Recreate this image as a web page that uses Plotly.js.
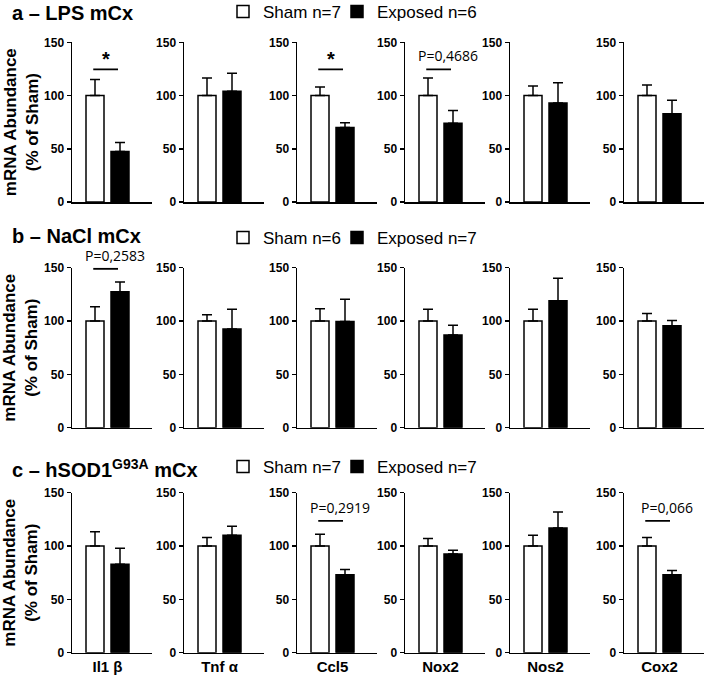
<!DOCTYPE html>
<html>
<head>
<meta charset="utf-8">
<script src="https://cdn.plot.ly/plotly-3.0.1.min.js"></script>
<style>html,body{margin:0;padding:0;background:#fff;}#chart{width:708px;height:675px;}</style>
</head>
<body>
<div id="chart"></div>
<script>
// ---- data ----
const genes = ['Il1 β', 'Tnf α', 'Ccl5', 'Nox2', 'Nos2', 'Cox2'];
const rowTitles = ['a – LPS mCx', 'b – NaCl mCx', 'c – hSOD1<sup>G93A</sup> mCx'];
const nSham = [7, 6, 7];
const nExposed = [6, 7, 7];

const shamA = [100, 100, 100, 100, 100, 100];
const shamErrA = [15, 16.5, 8, 16.5, 9, 10];
const expA = [47.5, 104, 70, 74, 93, 83];
const expErrA = [8.5, 17, 4.5, 12, 19, 12.5];

const shamB = [100, 100, 100, 100, 100, 100];
const shamErrB = [13.5, 6, 11.5, 11, 11, 7];
const expB = [127.5, 92.5, 99.5, 87, 119, 95.5];
const expErrB = [9, 18.5, 21, 9, 21, 5];

const shamC = [100, 100, 100, 100, 100, 100];
const shamErrC = [13.5, 8, 11, 7, 10, 8];
const expC = [83, 110, 73, 92.5, 117, 73];
const expErrC = [15, 8.5, 5, 3.5, 15, 4];

const sigRow = [0, 0, 0, 1, 2, 2];
const sigCol = [0, 2, 3, 0, 2, 5];
const sigLevel = [124.5, 124.5, 124.5, 149, 123.5, 123.5];
const sigLabel = ['*', '*', 'P=0,4686', 'P=0,2583', 'P=0,2919', 'P=0,066'];

const yTicks = [0, 50, 100, 150];

// ---- layout geometry (pixels) ----
const W = 708, H = 675;
const colX = [72, 184, 297, 405, 510, 624];
const panelW = 80;
const rowTop = [42.3, 267.7, 492.7];
const rowBot = [202, 427.7, 652.7];
const titleY = [13, 236, 468];
const legendY = [12, 238, 467];
const legendX = [223, 337];

const shamRows = [shamA, shamB, shamC];
const shamErrRows = [shamErrA, shamErrB, shamErrC];
const expRows = [expA, expB, expC];
const expErrRows = [expErrA, expErrB, expErrC];

const FONT = 'Liberation Sans, Arial, sans-serif';
const traces = [];
const layout = {
  width: W, height: H,
  margin: {l: 0, r: 0, t: 0, b: 0, autoexpand: false},
  paper_bgcolor: '#fff', plot_bgcolor: '#fff',
  font: {family: FONT, color: '#000'},
  showlegend: true,
  bargap: 0,
  annotations: [], shapes: []
};

function legendKey(k) { return k === 0 ? 'legend' : 'legend' + (k + 1); }

for (let r = 0; r < 3; r++) {
  for (let c = 0; c < 6; c++) {
    const n = r * 6 + c + 1;
    const xa = 'x' + n, ya = 'y' + n;
    const xKey = 'xaxis' + n, yKey = 'yaxis' + n;
    layout[xKey] = {
      domain: [colX[c] / W, (colX[c] + panelW) / W],
      range: [-0.92, 2.28],
      anchor: ya,
      showline: true, linecolor: '#000', linewidth: 1.5,
      ticks: '', showgrid: false, zeroline: false, fixedrange: true,
      tickvals: [0.5], ticktext: [genes[c]],
      showticklabels: r === 2,
      tickfont: {family: FONT, size: 15, weight: 'bold', color: '#000'}
    };
    layout[yKey] = {
      domain: [1 - rowBot[r] / H, 1 - rowTop[r] / H],
      range: [0, 150],
      anchor: xa,
      showline: true, linecolor: '#000', linewidth: 1.5,
      ticks: 'outside', ticklen: 4, tickwidth: 1.5, tickcolor: '#000',
      tickvals: yTicks, ticktext: yTicks.map(String),
      showgrid: false, zeroline: false, fixedrange: true,
      tickfont: {family: FONT, size: 12, weight: 'bold', color: '#000'}
    };
    traces.push({
      type: 'bar', x: [0], y: [shamRows[r][c]], xaxis: xa, yaxis: ya,
      width: 0.72,
      name: 'Sham n=' + nSham[r],
      legend: legendKey(2 * r), showlegend: c === 0,
      marker: {color: '#fff', line: {color: '#000', width: 1.5}},
      error_y: {type: 'data', symmetric: false, array: [shamErrRows[r][c]], arrayminus: [0],
                color: '#000', thickness: 1.5, width: 5},
      hoverinfo: 'skip'
    });
    traces.push({
      type: 'bar', x: [1], y: [expRows[r][c]], xaxis: xa, yaxis: ya,
      width: 0.72,
      name: 'Exposed n=' + nExposed[r],
      legend: legendKey(2 * r + 1), showlegend: c === 0,
      marker: {color: '#000', line: {color: '#000', width: 1.5}},
      error_y: {type: 'data', symmetric: false, array: [expErrRows[r][c]], arrayminus: [0],
                color: '#000', thickness: 1.5, width: 5},
      hoverinfo: 'skip'
    });
  }
  for (let k = 0; k < 2; k++) {
    layout[legendKey(2 * r + k)] = {
      orientation: 'h', x: legendX[k] / W, xanchor: 'left',
      y: 1 - legendY[r] / H, yanchor: 'middle',
      font: {family: FONT, size: 17, color: '#000'},
      bgcolor: 'rgba(0,0,0,0)', borderwidth: 0
    };
  }
  // row title
  layout.annotations.push({
    xref: 'paper', yref: 'paper', x: 10 / W, y: 1 - titleY[r] / H,
    xanchor: 'left', yanchor: 'middle', showarrow: false,
    text: rowTitles[r],
    font: {family: FONT, size: 20, weight: 'bold', color: '#000'}
  });
  // y axis title
  layout.annotations.push({
    xref: 'paper', yref: 'paper', x: 21 / W, y: 1 - ((rowTop[r] + rowBot[r]) / 2) / H,
    xanchor: 'center', yanchor: 'middle', showarrow: false, textangle: -90,
    text: 'mRNA Abundance<br>(% of Sham)',
    font: {family: FONT, size: 17, weight: 'bold', color: '#000'}
  });
}

// significance markers
for (let i = 0; i < sigRow.length; i++) {
  const n = sigRow[i] * 6 + sigCol[i] + 1;
  const isStar = sigLabel[i] === '*';
  layout.shapes.push({
    type: 'line', xref: 'x' + n, yref: 'y' + n,
    x0: -0.07, x1: 0.92, y0: sigLevel[i], y1: sigLevel[i],
    line: {color: '#000', width: 1.8}
  });
  layout.annotations.push({
    xref: 'x' + n, yref: 'y' + n, x: isStar ? 0.43 : 0.78, y: sigLevel[i],
    xanchor: 'center', yanchor: 'bottom', showarrow: false,
    yshift: isStar ? -3 : 2,
    text: sigLabel[i],
    font: isStar ? {family: FONT, size: 20, weight: 'bold', color: '#000'}
                 : {family: 'Open Sans, sans-serif', size: 14, color: '#000'}
  });
}

Plotly.newPlot('chart', traces, layout, {staticPlot: true, displayModeBar: false});
</script>
</body>
</html>
